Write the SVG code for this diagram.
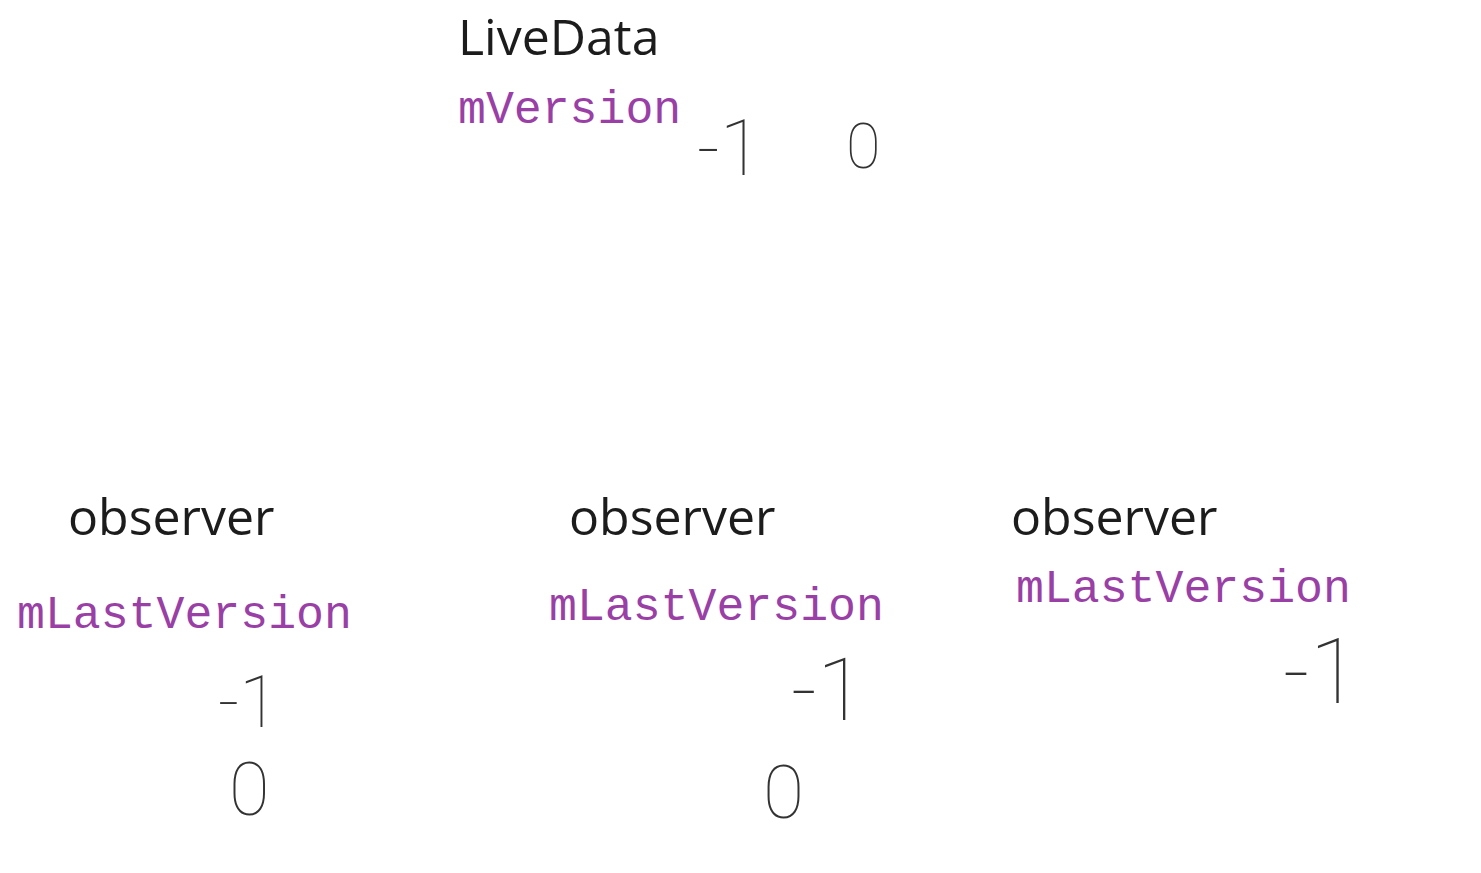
<svg xmlns="http://www.w3.org/2000/svg" width="1481" height="873" viewBox="0 0 1481 873">
<style>
.title{font-family:"Open Sans","Noto Sans","Liberation Sans",sans-serif;font-size:50px;fill:#1c1c1c}
.field{font-family:"Liberation Mono","DejaVu Sans Mono",monospace;font-size:46.5px;fill:#9a3fa6}
.hand{font-family:Roboto,"Liberation Sans",sans-serif;font-weight:100;fill:#333333}
</style>
<rect width="1481" height="873" fill="#ffffff"/>
<g id="livedata">
<text class="title" x="458" y="55">LiveData</text>
<text class="field" x="458" y="123">mVersion</text>
<text class="hand" font-size="77" x="697" y="175">-1</text>
<text class="hand" font-size="63" x="846" y="168">0</text>
</g>
<g id="observer1">
<text class="title" x="68" y="535">observer</text>
<text class="field" x="17" y="628">mLastVersion</text>
<text class="hand" font-size="72" x="218" y="727">-1</text>
<text class="hand" font-size="74" x="229" y="815">0</text>
</g>
<g id="observer2">
<text class="title" x="569" y="535">observer</text>
<text class="field" x="549" y="620">mLastVersion</text>
<text class="hand" font-size="88" x="791" y="720">-1</text>
<text class="hand" font-size="75" x="763" y="818">0</text>
</g>
<g id="observer3">
<text class="title" x="1011" y="535">observer</text>
<text class="field" x="1016" y="602">mLastVersion</text>
<text class="hand" font-size="90" x="1283" y="703">-1</text>
</g>
<g id="connectors"></g>
</svg>
